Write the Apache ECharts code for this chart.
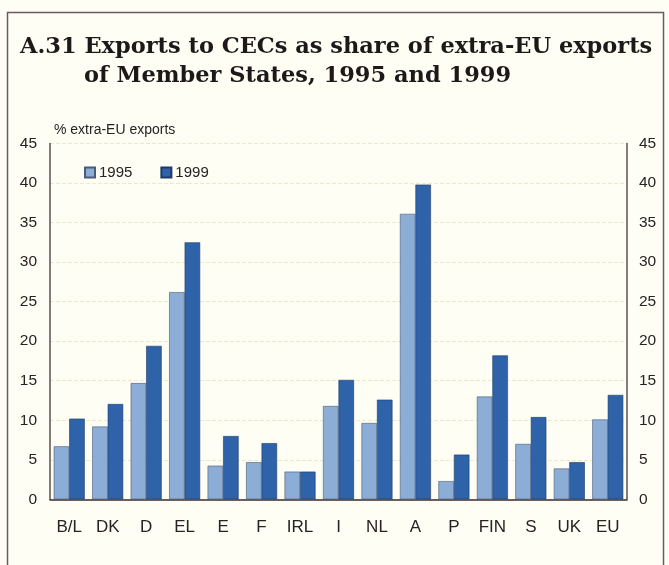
<!DOCTYPE html>
<html><head><meta charset="utf-8">
<script src="https://cdn.jsdelivr.net/npm/echarts@6/dist/echarts.min.js"></script>
<style>html,body{margin:0;padding:0;background:#fefef5}#c{width:669px;height:565px}</style>
</head><body><div id="c"></div>
<script>
const categories = ['B/L','DK','D','EL','E','F','IRL','I','NL','A','P','FIN','S','UK','EU'];
const values1995 = [6.7, 9.2, 14.7, 26.2, 4.25, 4.7, 3.5, 11.8, 9.65, 36.1, 2.3, 13.0, 7.0, 3.9, 10.1];
const values1999 = [10.2, 12.05, 19.4, 32.5, 8.0, 7.1, 3.5, 15.1, 12.6, 39.8, 5.65, 18.2, 10.4, 4.7, 13.2];
const seriesNames = ['1995','1999'];
const yTicks = {min:0, max:45, interval:5};

const chart = echarts.init(document.getElementById('c'), null, {renderer:'canvas'});
const axisCol = '#5e4f4f';
const txtCol = '#2a2222';
const sans = 'Liberation Sans, Arial, sans-serif';
chart.setOption({
  backgroundColor:'#fefef5',
  animation:false,
  title:[
    {text:'A.31 Exports to CECs as share of extra-EU exports', left:15, top:31,
     textStyle:{fontFamily:'DejaVu Serif', fontWeight:'bold', fontSize:22.5, color:'#1e1818'}},
    {text:'of Member States, 1995 and 1999', left:79, top:60,
     textStyle:{fontFamily:'DejaVu Serif', fontWeight:'bold', fontSize:22.5, color:'#1e1818'}}
  ],
  graphic:[
    {type:'rect', shape:{x:7.5,y:12.5,width:656,height:570}, style:{fill:'none', stroke:'#6b5a5a', lineWidth:1.5}, silent:true}
  ],
  legend:{
    data:seriesNames, left:79, top:160, itemWidth:10, itemHeight:10, itemGap:28,
    icon:'rect',
    textStyle:{fontFamily:sans, fontSize:15, color:txtCol, padding:[0,0,0,-1]}
  },
  grid:{left:50, right:42, top:143.5, bottom:65.7},
  xAxis:{
    type:'category', data:categories,
    axisLine:{lineStyle:{color:'#3a2e2e', width:1.5}},
    axisTick:{show:false},
    axisLabel:{fontFamily:sans, fontSize:17, color:txtCol, margin:20}
  },
  yAxis:[
    {type:'value', min:yTicks.min, max:yTicks.max, interval:yTicks.interval, position:'left',
     name:'% extra-EU exports', nameLocation:'end', nameGap:6,
     nameTextStyle:{fontFamily:sans, fontSize:14, color:txtCol, align:'left', padding:[0,0,0,4]},
     axisLine:{show:true, lineStyle:{color:axisCol, width:1.5}},
     axisTick:{show:false},
     axisLabel:{fontFamily:sans, fontSize:15.5, color:txtCol, margin:13},
     splitLine:{show:true, lineStyle:{color:'#ecebc8', type:'dashed', width:1}}},
    {type:'value', min:yTicks.min, max:yTicks.max, interval:yTicks.interval, position:'right',
     axisLine:{show:true, lineStyle:{color:axisCol, width:1.5}},
     axisTick:{show:false},
     axisLabel:{fontFamily:sans, fontSize:15.5, color:txtCol, margin:12},
     splitLine:{show:false}}
  ],
  series:[
    {name:seriesNames[0], type:'bar', data:values1995, barWidth:15.5, barGap:'0%',
     itemStyle:{color:'#8cadd6', borderColor:'#4a5a78', borderWidth:0.6}},
    {name:seriesNames[1], type:'bar', data:values1999, barWidth:15.5,
     itemStyle:{color:'#2e63aa', borderColor:'#1e3a66', borderWidth:0.6}}
  ]
});
</script></body></html>
